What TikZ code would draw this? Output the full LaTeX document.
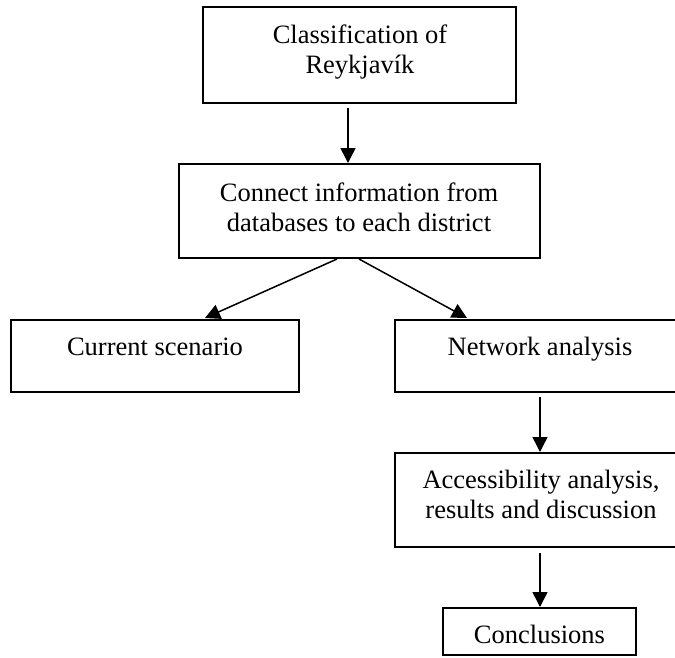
\documentclass[tikz,border=0pt]{standalone}
\usepackage{fontspec}
\setmainfont{Liberation Serif}
\usetikzlibrary{arrows.meta}
\begin{document}
\begin{tikzpicture}[x=1pt,y=-1pt,
  box/.style={draw, line width=2pt, minimum width=#1, inner sep=0pt, outer sep=0pt},
  lbl/.style={anchor=base, inner sep=0pt, font=\fontsize{26.5}{30}\selectfont},
  arr/.style={line width=1.5pt, -{Triangle[length=15pt,width=15pt]}}]
\useasboundingbox (0,0) rectangle (675,657);
% boxes
\node[box=313pt, minimum height=96pt] (b1) at (359.5,55) {};
\node[box=361pt, minimum height=94pt] (b2) at (359.5,211) {};
\node[box=288pt, minimum height=72pt] (b3) at (155,356) {};
\node[box=290pt, minimum height=72pt] (b4) at (540,356) {};
\node[box=290pt, minimum height=94pt] (b5) at (540,500) {};
\node[box=193pt, minimum height=47pt] (b6) at (539.5,631.5) {};
% texts
\node[lbl] (t1a) at (360,43) {Classification of};
\node[lbl] (t1b) at (360,73) {Reykjavík};
\node[lbl] (t2a) at (359,201) {Connect information from};
\node[lbl] (t2b) at (359,231) {databases to each district};
\node[lbl] (t3) at (155,355) {Current scenario};
\node[lbl] (t4) at (540,355) {Network analysis};
\node[lbl] (t5a) at (541,488) {Accessibility analysis,};
\node[lbl] (t5b) at (541,518) {results and discussion};
\node[lbl] (t6) at (539.5,643) {Conclusions};
% connectors
\draw[arr] ([xshift=-11.5pt,yshift=-5pt]b1.south) -- ([xshift=-11.5pt,yshift=1pt]b2.north);
\draw[arr] ([xshift=-22.5pt,yshift=-1pt]b2.south) -- ([xshift=50pt,yshift=2pt]b3.north);
\draw[arr] ([xshift=-0.5pt,yshift=-1pt]b2.south) -- ([xshift=-73pt,yshift=2pt]b4.north);
\draw[arr] ([yshift=-5pt]b4.south) -- ([yshift=1pt]b5.north);
\draw[arr] ([yshift=-6pt]b5.south) -- ([xshift=0.5pt,yshift=1pt]b6.north);
\end{tikzpicture}
\end{document}
